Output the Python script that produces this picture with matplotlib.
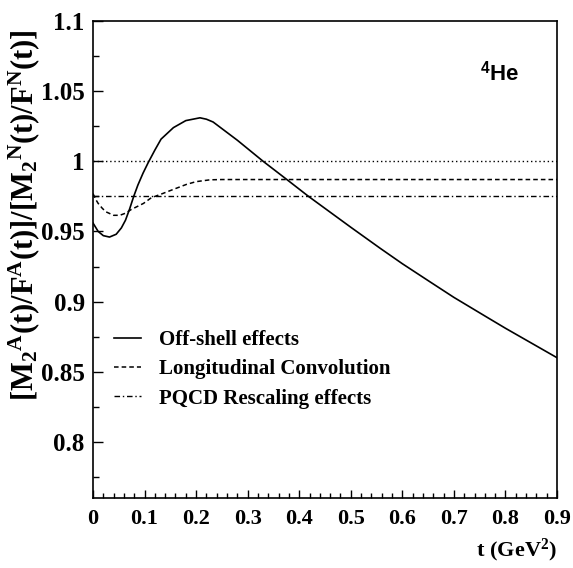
import matplotlib
matplotlib.use("Agg")
import matplotlib.pyplot as plt
from matplotlib.ticker import MultipleLocator, FuncFormatter

plt.rcParams['mathtext.fontset'] = 'custom'
plt.rcParams['mathtext.rm'] = 'Liberation Serif:bold'
plt.rcParams['mathtext.bf'] = 'Liberation Serif:bold'
plt.rcParams['mathtext.it'] = 'Liberation Serif:bold'
plt.rcParams['mathtext.sf'] = 'Liberation Sans:bold'
plt.rcParams['mathtext.default'] = 'rm'

# Off-shell effects (solid)
t_off = [0.0, 0.01, 0.02, 0.032, 0.045, 0.055, 0.063, 0.071, 0.079, 0.087, 0.097,
         0.107, 0.12, 0.132, 0.156, 0.18, 0.2075, 0.22, 0.233, 0.28, 0.33, 0.376,
         0.418, 0.5, 0.557, 0.6, 0.654, 0.7, 0.7635, 0.8, 0.9]
r_off = [0.956, 0.950, 0.947, 0.946, 0.948, 0.9525, 0.958, 0.966, 0.975, 0.983, 0.9915,
         0.999, 1.008, 1.0158, 1.024, 1.029, 1.031, 1.030, 1.028, 1.015, 1.000, 0.987,
         0.975, 0.953, 0.938, 0.927, 0.914, 0.903, 0.889, 0.881, 0.860]

# Longitudinal convolution (dashed)
t_conv = [0.0, 0.005, 0.01, 0.018, 0.025, 0.04, 0.052, 0.063, 0.074, 0.098, 0.113,
          0.135, 0.156, 0.181, 0.2, 0.227, 0.25, 0.9]
r_conv = [0.977, 0.973, 0.970, 0.9665, 0.964, 0.9615, 0.9615, 0.963, 0.9656, 0.970, 0.974,
          0.977, 0.980, 0.9835, 0.9855, 0.9868, 0.987, 0.987]

# PQCD rescaling effects (dash-dot)
t_pqcd = [0.0, 0.9]
r_pqcd = [0.975, 0.975]

# Reference line
t_ref = [0.0, 0.9]
r_ref = [1.0, 1.0]

fig = plt.figure(figsize=(5.73, 5.68), dpi=100)
ax = fig.add_axes([93/573, 1-498/568, 464/573, 477/568])

ax.plot(t_ref, r_ref, color='black', lw=1.0, ls=(0, (1, 2)))
l1, = ax.plot(t_off, r_off, color='black', lw=1.2, ls='-', label='Off-shell effects')
l2, = ax.plot(t_conv, r_conv, color='black', lw=1.1, ls=(0, (3, 2)), label='Longitudinal Convolution')
l3, = ax.plot(t_pqcd, r_pqcd, color='black', lw=1.0, ls=(0, (4, 2, 1, 2)), label='PQCD Rescaling effects')

ax.set_xlim(0, 0.9)
ax.set_ylim(0.76, 1.1)

ax.xaxis.set_major_locator(MultipleLocator(0.1))
ax.xaxis.set_minor_locator(MultipleLocator(0.02))
ax.yaxis.set_major_locator(MultipleLocator(0.05))
ax.yaxis.set_minor_locator(MultipleLocator(0.025))
ax.xaxis.set_major_formatter(FuncFormatter(lambda v, p: ('%g' % round(v, 3))))
ax.yaxis.set_major_formatter(FuncFormatter(lambda v, p: ('%g' % round(v, 3))))

ax.tick_params(axis='both', which='both', direction='in', top=False, right=False)
ax.tick_params(axis='y', which='major', length=7, width=1, pad=6)
ax.tick_params(axis='y', which='minor', length=4, width=1)
ax.tick_params(axis='x', which='major', length=6, width=1, pad=8)
ax.tick_params(axis='x', which='minor', length=3.5, width=1)
for lab in ax.get_xticklabels():
    lab.set_fontfamily('Liberation Serif')
    lab.set_fontweight('bold')
    lab.set_fontsize(16)
for lab in ax.get_yticklabels():
    lab.set_fontfamily('Liberation Serif')
    lab.set_fontweight('bold')
    lab.set_fontsize(18)
for s in ax.spines.values():
    s.set_linewidth(1.2)

leg = ax.legend(handles=[l1, l2, l3], loc='upper left', bbox_to_anchor=(0.028, 0.37),
                frameon=False, handlelength=1.3, handletextpad=0.85, labelspacing=0.45,
                borderaxespad=0.0,
                prop={'family': 'Liberation Serif', 'weight': 'bold', 'size': 15})

ax.text(0.835, 0.875, r'$^{\mathsf{4}}$He', transform=ax.transAxes,
        fontfamily='Liberation Sans', fontweight='bold', fontsize=16)

fig.text(24/573, 1-215/568, r'$[\mathrm{M_2{}^A(t)/F^A(t)]/[M_2{}^N(t)/F^N(t)]}$',
         rotation=90, ha='center', va='center', fontsize=22)
fig.text(557/573, 1-550/568, r'$\mathrm{t\ (GeV^2)}$', ha='right', va='center', fontsize=16)

fig.savefig('out.png', dpi=100)
